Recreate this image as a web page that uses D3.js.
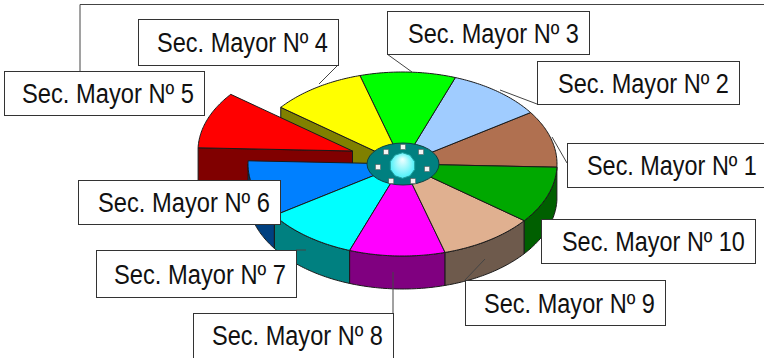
<!DOCTYPE html>
<html><head><meta charset="utf-8">
<style>html,body{margin:0;padding:0;background:#fff;overflow:hidden}svg{display:block}</style>
<script src="https://cdn.jsdelivr.net/npm/d3@7"></script></head><body>
<svg id="c" width="764" height="358"></svg>
<script>
const labels=["Sec. Mayor Nº 1","Sec. Mayor Nº 2","Sec. Mayor Nº 3","Sec. Mayor Nº 4","Sec. Mayor Nº 5","Sec. Mayor Nº 6","Sec. Mayor Nº 7","Sec. Mayor Nº 8","Sec. Mayor Nº 9","Sec. Mayor Nº 10"];
const values=[10,10,10,10,10,10,10,10,10,10];
const topColors=["#B07050","#A0CCFF","#00FF00","#FFFF00","#FF0000","#0080FF","#00FFFF","#FF00FF","#E0B090","#00A800"];
const sideColors=["#583828","#506680","#008000","#808000","#800000","#004080","#008080","#800080","#6E5A4C","#005F00"];
const exploded=[0,0,0,0,1,0,0,0,0,0];
// label boxes [left, top, right, bottom, textX, textWidth]
const boxes=[[567,143,770,187,587,170],[537,61,739,104,558,171],[387,11,589,54,408,171],[138,19,338,65,157,171],[4,71,204,115,22,172],[78,180,280,224,98,172],[96,250,296,297,114,172],[193,313,393,364,212,171],[465,280,665,325,484,171],[541,219,755,263,562,183]];
const leaders=[[[567,163],[552,137]],[[537,104],[500,90]],[[387,54],[412,72]],[[338,65],[319,84]],[[80,71],[80,4.5],[764,4.5]],[],[[296,250],[306,250]],[[393,314],[393,272]],[[465,280],[485,259]],[]];
const holeAngles=[-129.5,-90,-48.7,19.7,71,112,168];
const holeRadii=[.74,.81,.76,.71,.86,.87,.71];

const svg=d3.select("#c");
const cx=402.5,cy=164,rx=154.5,ry=92,depth=33,hubRx=36,hubRy=21;
const px=d3.scaleLinear().domain([-1,1]).range([cx-rx,cx+rx]);
const py=d3.scaleLinear().domain([-1,1]).range([cy-ry,cy+ry]);
const explodeX=d3.scaleLinear().domain([0,1]).range([0,-50]);
const explodeY=d3.scaleLinear().domain([0,1]).range([0,-13]);
const rad=d=>d*Math.PI/180;
const pie=d3.pie().sort(null).startAngle(rad(92)).endAngle(rad(92-360));
const arcs=pie(values);
const line=d3.line();
const pt=(a,k,dx=0,dy=0,h=0)=>[px(Math.sin(a)*k)+dx,py(-Math.cos(a)*k)+dy+h];
const sample=(a0,a1)=>d3.range(0,41).map(i=>a0+(a1-a0)*i/40);
const outline="#1a1a1a";

const gWalls=svg.append("g"),gTop=svg.append("g");
function edgeWall(a,i,dx,dy){
  gWalls.append("path").attr("d",line([pt(a,0,dx,dy),pt(a,1,dx,dy),pt(a,1,dx,dy,depth),pt(a,0,dx,dy,depth)])+"Z")
   .attr("fill",sideColors[i]).attr("stroke",outline).attr("stroke-width",1);
}
// cut face of the neighbour revealed by the exploded slice
arcs.forEach((d,i)=>{ if(exploded[i]) edgeWall(arcs[i-1].endAngle,i-1,0,0); });
arcs.forEach((d,i)=>{ if(exploded[i]){
  const dx=explodeX(1),dy=explodeY(1);
  edgeWall(d.endAngle,i,dx,dy);
  gWalls.append("path").attr("d",line([pt(0,0,dx,dy),...sample(d.startAngle,d.endAngle).map(a=>pt(a,1,dx,dy))])+"Z")
   .attr("fill",topColors[i]).attr("stroke",outline).attr("stroke-width",1);
}});
// outer rim walls, front half only
arcs.forEach((d,i)=>{
  if(exploded[i])return;
  const hi=Math.min(d.startAngle,rad(-90)),lo=Math.max(d.endAngle,rad(-270));
  if(hi<=lo)return;
  const s=sample(lo,hi);
  gWalls.append("path").attr("d",line([...s.map(a=>pt(a,1)),...s.slice().reverse().map(a=>pt(a,1,0,0,depth))])+"Z")
   .attr("fill",sideColors[i]).attr("stroke",outline).attr("stroke-width",1);
});
// top faces
arcs.forEach((d,i)=>{
  if(exploded[i])return;
  gTop.append("path").attr("d",line([pt(0,0),...sample(d.startAngle,d.endAngle).map(a=>pt(a,1))])+"Z")
   .attr("fill",topColors[i]).attr("stroke",outline).attr("stroke-width",1);
});
// hub
const defs=svg.append("defs");
const gr=defs.append("radialGradient").attr("id","hubGrad").attr("cx","50%").attr("cy","50%").attr("r","55%").attr("fx","50%").attr("fy","25%");
gr.append("stop").attr("offset","0%").attr("stop-color","#F2FFFF");
gr.append("stop").attr("offset","100%").attr("stop-color","#40F0F8");
const hub=svg.append("g");
hub.append("ellipse").attr("cx",403).attr("cy",164).attr("rx",hubRx).attr("ry",hubRy).attr("fill","#008080").attr("stroke","#104040");
hub.append("path").attr("d",line(d3.range(10).map(i=>{const a=i*Math.PI/5+Math.PI/10;return [402.5+12.8*Math.cos(a),165.5+12.8*Math.sin(a)];}))+"Z").attr("fill","url(#hubGrad)").attr("stroke","#20A0A0");
hub.selectAll("rect.hole").data(holeAngles).join("rect").attr("class","hole")
 .attr("x",(d,i)=>403+hubRx*holeRadii[i]*Math.cos(rad(d))-2.5).attr("y",(d,i)=>164+hubRy*holeRadii[i]*Math.sin(rad(d))-2.5)
 .attr("width",5).attr("height",5).attr("fill","#F4F4F4").attr("stroke","#555").attr("stroke-width",.5);
// leaders
svg.append("g").selectAll("path").data(leaders.filter(l=>l.length)).join("path")
 .attr("d",d=>line(d)).attr("fill","none").attr("stroke","#444").attr("stroke-width",1);
// labels
const lab=svg.append("g").selectAll("g").data(labels).join("g");
lab.append("rect").attr("x",(d,i)=>boxes[i][0]+.5).attr("y",(d,i)=>boxes[i][1]+.5)
 .attr("width",(d,i)=>boxes[i][2]-boxes[i][0]).attr("height",(d,i)=>boxes[i][3]-boxes[i][1])
 .attr("fill","#fff").attr("stroke","#333").attr("stroke-width",1);
lab.append("text").text(d=>d)
 .attr("font-family","'Liberation Sans',Arial,sans-serif").attr("font-size",28).attr("fill","#111")
 .each(function(d,i){
   const w=this.getComputedTextLength();
   const y=i===7?345:(boxes[i][1]+boxes[i][3])/2+10;
   d3.select(this).attr("transform",`translate(${boxes[i][4]},${y}) scale(${boxes[i][5]/w},1)`);
 });
</script></body></html>
